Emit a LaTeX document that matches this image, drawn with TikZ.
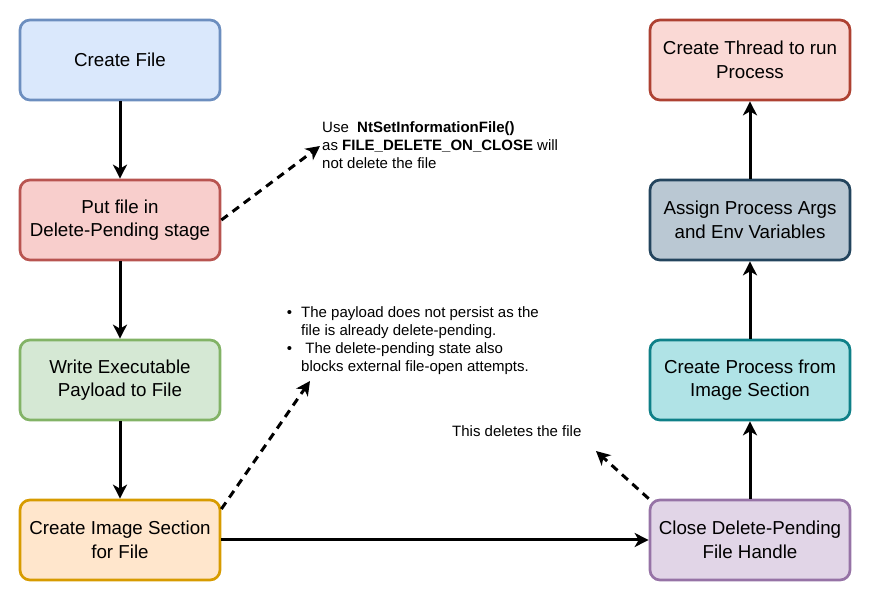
\documentclass[tikz,border=0pt]{standalone}
\usepackage{fontspec}
\setmainfont{Liberation Sans}
\usetikzlibrary{arrows.meta}
\definecolor{fileF}{HTML}{DAE8FC}\definecolor{fileD}{HTML}{6C8EBF}
\definecolor{pendF}{HTML}{F8CECC}\definecolor{pendD}{HTML}{B85450}
\definecolor{writeF}{HTML}{D5E8D4}\definecolor{writeD}{HTML}{82B366}
\definecolor{secF}{HTML}{FFE6CC}\definecolor{secD}{HTML}{D79B00}
\definecolor{closeF}{HTML}{E1D5E7}\definecolor{closeD}{HTML}{9673A6}
\definecolor{procF}{HTML}{B0E3E6}\definecolor{procD}{HTML}{0E8088}
\definecolor{argsF}{HTML}{BAC8D3}\definecolor{argsD}{HTML}{23445D}
\definecolor{thrF}{HTML}{FAD9D5}\definecolor{thrD}{HTML}{AE4132}

\begin{document}
\begin{tikzpicture}[x=1pt,y=-1pt,>={Stealth[length=14pt,width=14pt,inset=4pt]},
  box/.style={draw, line width=2.7pt, rounded corners=10pt, minimum width=200pt,
    minimum height=80pt, inner sep=0pt, align=center,
    font=\fontsize{18.75}{23.5}\selectfont},
  flow/.style={->, line width=3pt},
  hint/.style={->, line width=3pt, dash pattern=on 8pt off 6pt},
  notetext/.style={inner sep=0pt, align=left, font=\fontsize{15}{17.8}\selectfont}]
  \useasboundingbox (0,0) rectangle (871,601);
  % left column
  \node[box, fill=fileF, draw=fileD] (create) at (120,60) {Create File};
  \node[box, fill=pendF, draw=pendD] (pending) at (120,220) {Put file in\\Delete-Pending stage};
  \node[box, fill=writeF, draw=writeD] (write) at (120,380) {Write Executable\\Payload to File};
  \node[box, fill=secF, draw=secD] (imgsec) at (120,540) {Create Image Section\\for File};
  % right column
  \node[box, fill=closeF, draw=closeD] (closeh) at (750,540) {Close Delete-Pending\\File Handle};
  \node[box, fill=procF, draw=procD] (proc) at (750,380) {Create Process from\\Image Section};
  \node[box, fill=argsF, draw=argsD] (args) at (750,220) {Assign Process Args\\and Env Variables};
  \node[box, fill=thrF, draw=thrD] (thread) at (750,60) {Create Thread to run\\Process};
  % main flow
  \draw[flow] (create) -- (pending);
  \draw[flow] (pending) -- (write);
  \draw[flow] (write) -- (imgsec);
  \draw[flow] (imgsec) -- (closeh);
  \draw[flow] (closeh) -- (proc);
  \draw[flow] (proc) -- (args);
  \draw[flow] (args) -- (thread);
  % notes
  \node[notetext, anchor=west] (usenote) at (322,145)
    {Use\ \ \textbf{NtSetInformationFile()}\\as \textbf{FILE\_DELETE\_ON\_CLOSE} will\\not delete the file};
  \node[notetext, anchor=west] (payloadnote) at (301,340.5)
    {\llap{\textbullet\hspace{9pt}}The payload does not persist as the\\file is already delete-pending.\\
     \llap{\textbullet\hspace{9pt}} The delete-pending state also\\blocks external file-open attempts.};
  \node[notetext, anchor=west] (delnote) at (452,431) {This deletes the file};
  \coordinate (usetip) at (320,146);
  \coordinate (payloadtip) at (310,381);
  \coordinate (deltip) at (596,451);
  \draw[hint] (pending.east) -- (usetip);
  \draw[hint] (imgsec.17) -- (payloadtip);
  \draw[hint] (closeh.north west) -- (deltip);
\end{tikzpicture}
\end{document}
